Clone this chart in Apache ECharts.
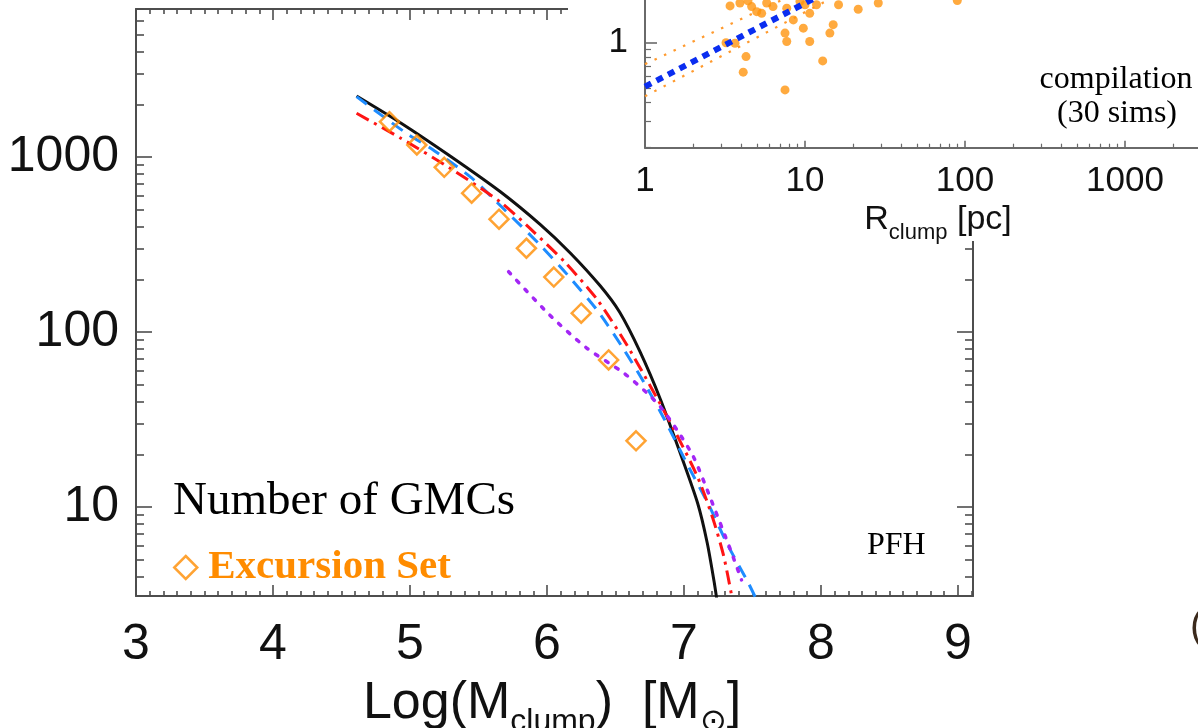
<!DOCTYPE html>
<html>
<head>
<meta charset="utf-8">
<script src="https://cdn.jsdelivr.net/npm/echarts@6/dist/echarts.min.js"></script>
<style>
  html, body { margin: 0; padding: 0; background: #fff; }
  #chart { width: 1198px; height: 728px; }
</style>
</head>
<body>
<div id="chart"></div>
<script>
// ---- Main panel: cumulative number of GMCs above a given clump mass ----
// x: log10(M_clump / Msun), y: number of clumps
const simLogM   = [4.61, 4.93, 5.29, 5.66, 5.95, 6.17, 6.39, 6.53, 6.68, 6.83, 6.97, 7.10, 7.17, 7.22, 7.24];
const simN      = [2232, 1571, 1017, 633, 412, 283, 183, 130, 76.9, 40.9, 20.6, 10.5, 6.23, 3.75, 2.96];

const blueLogM  = [4.61, 4.96, 5.18, 5.45, 5.70, 5.95, 6.15, 6.37, 6.55, 6.71, 6.86, 7.02, 7.18, 7.32, 7.47, 7.52];
const blueN     = [2213, 1390, 1083, 759, 491, 314, 212, 132, 82, 51.2, 31.4, 17.8, 10.3, 6.06, 3.68, 3.06];

const redLogM   = [4.61, 4.93, 5.29, 5.66, 5.88, 6.13, 6.37, 6.57, 6.75, 6.93, 7.10, 7.21, 7.29, 7.35];
const redN      = [1777, 1284, 865, 553, 388, 251, 152, 87.7, 49.8, 27.5, 14.8, 8.65, 5.25, 3.06];

const purpleLogM = [5.72, 6.02, 6.29, 6.56, 6.73, 6.83, 6.95, 7.07, 7.19, 7.34, 7.42];
const purpleN    = [221, 125, 81, 58.3, 44.8, 37.2, 27.5, 19.3, 11.4, 5.68, 3.83];

// Excursion-set prediction (open diamonds)
const excLogM = [4.85, 5.05, 5.25, 5.45, 5.65, 5.85, 6.05, 6.25, 6.45, 6.65];
const excN    = [1592, 1171, 873, 621, 441, 301, 206, 128, 69.2, 23.9];

// Tick labels
const massTicks  = [3, 4, 5, 6, 7, 8, 9];
const countTicks = [10, 100, 1000];

// ---- Inset: compilation of 30 simulations vs clump radius ----
const clumpR = [3.40, 3.92, 4.64, 4.99, 5.36, 5.76, 6.31, 7.69, 8.45, 9.76, 7.50, 7.69, 10.7, 10.7, 11.8,
                14.3, 15.0, 16.2, 12.9, 4.28, 4.11, 7.50, 3.65, 3.21, 21.5, 28.7, 89.5, 9.3, 12.4, 6.0, 4.4, 10.0];
const clumpY = [1.76, 1.84, 1.74, 1.61, 1.57, 1.84, 1.74, 1.70, 1.42, 1.25, 1.16, 1.02, 1.02, 1.57, 1.79,
                1.16, 1.32, 1.79, 0.757, 0.809, 0.637, 0.485, 0.993, 1.00, 1.67, 1.84, 1.91, 1.88, 1.93, 1.93, 1.90, 1.79];

// power-law guide lines (two end points each, straight on log-log axes)
const fitR      = [1, 100];
const fitBlue   = [0.51, 6.6];
const fitUpper  = [0.72, 7.2];
const fitLower  = [0.44, 5.8];

const radiusTicks = [1, 10, 100, 1000];
const insetYTicks = [1];

// ---- helpers for tick positions ----
function logMinor(lo, hi, majors) {
  const out = [];
  for (let d = Math.floor(Math.log10(lo)) - 1; d <= Math.ceil(Math.log10(hi)); d++) {
    for (let k = 1; k <= 9; k++) {
      const v = +(k * Math.pow(10, d)).toPrecision(6);
      if (v >= lo && v <= hi && majors.indexOf(v) < 0) out.push(v);
    }
  }
  return out;
}
function linMinor(lo, hi, step) {
  const out = [];
  for (let i = Math.round(lo / step); i * step <= hi + 1e-9; i++) {
    const v = +(i * step).toFixed(4);
    if (Math.abs(v - Math.round(v)) > 1e-6) out.push(v);
  }
  return out;
}
const pairs = (xs, ys) => xs.map((x, i) => [x, ys[i]]);

const AX = '#4d4d4d';
const SANS = '"Liberation Sans", Arial, Helvetica, sans-serif';
const SERIF = '"Liberation Serif", "Times New Roman", serif';

function axis(o) {
  return {
    type: o.type, gridIndex: o.grid, position: o.pos, min: o.min, max: o.max,
    logBase: 10, z: o.z || 0,
    axisLine: { show: !!o.line, onZero: false, lineStyle: { color: o.color || AX, width: o.lw || 2 } },
    axisTick: { show: true, inside: true, length: o.len, customValues: o.ticks,
                lineStyle: { color: o.color || AX, width: o.tw || 1.6 } },
    axisLabel: o.labels ? Object.assign({ show: true, customValues: o.labels,
                 fontFamily: SANS, color: '#111', formatter: v => String(v) }, o.labelStyle)
               : { show: false },
    splitLine: { show: false }, minorTick: { show: false }, minorSplitLine: { show: false },
    axisPointer: { show: false }
  };
}

const X0 = 3, X1 = 9.11, Y0 = 3.1, Y1 = 7000;
const xMinor = linMinor(X0, X1, 0.1);
const yMinor = logMinor(Y0, Y1, countTicks);
const RX0 = 1, RX1 = 2858, RY0 = 0.2, RY1 = 1.926;
const rMinor = logMinor(RX0, RX1, radiusTicks);
const ryMinor = logMinor(RY0, RY1, [1, 10]);

const xAxes = [
  axis({ type: 'value', grid: 0, pos: 'bottom', min: X0, max: X1, ticks: massTicks, len: 11, line: true,
         labels: massTicks, labelStyle: { fontSize: 50, margin: 24 } }),
  axis({ type: 'value', grid: 0, pos: 'bottom', min: X0, max: X1, ticks: xMinor, len: 5 }),
  axis({ type: 'value', grid: 0, pos: 'top', min: X0, max: X1, ticks: massTicks, len: 11, line: true }),
  axis({ type: 'value', grid: 0, pos: 'top', min: X0, max: X1, ticks: xMinor, len: 5 }),
  axis({ type: 'log', grid: 1, pos: 'bottom', min: RX0, max: RX1, ticks: radiusTicks, len: 7, line: true, z: 10,
         color: '#6a6a6a', labels: radiusTicks, labelStyle: { fontSize: 35, margin: 16 } }),
  axis({ type: 'log', grid: 1, pos: 'bottom', min: RX0, max: RX1, ticks: rMinor, len: 4, z: 10, color: '#6a6a6a', tw: 1.2 })
];
const yAxes = [
  axis({ type: 'log', grid: 0, pos: 'left', min: Y0, max: Y1, ticks: countTicks, len: 16, line: true,
         labels: countTicks, labelStyle: { fontSize: 50, margin: 17 } }),
  axis({ type: 'log', grid: 0, pos: 'left', min: Y0, max: Y1, ticks: yMinor, len: 8 }),
  axis({ type: 'log', grid: 0, pos: 'right', min: Y0, max: Y1, ticks: countTicks, len: 16, line: true }),
  axis({ type: 'log', grid: 0, pos: 'right', min: Y0, max: Y1, ticks: yMinor, len: 8 }),
  axis({ type: 'log', grid: 1, pos: 'left', min: RY0, max: RY1, ticks: [1], len: 12, line: true, z: 10,
         color: '#6a6a6a', labels: insetYTicks, labelStyle: { fontSize: 35, margin: 17 } }),
  axis({ type: 'log', grid: 1, pos: 'left', min: RY0, max: RY1, ticks: ryMinor, len: 6, z: 10, color: '#6a6a6a', tw: 1.2 })
];

const option = {
  animation: false,
  backgroundColor: '#fff',
  grid: [
    { left: 136, top: 9.1, width: 837, height: 586.9, containLabel: false },
    { left: 645, top: 0, width: 553, height: 147.7, containLabel: false }
  ],
  xAxis: xAxes,
  yAxis: yAxes,
  legend: {
    left: 168, top: 542, orient: 'horizontal',
    itemWidth: 23, itemHeight: 23,
    data: [{ name: 'Excursion Set', icon: 'diamond',
             itemStyle: { color: 'rgba(0,0,0,0)', borderColor: '#ff8c00', borderWidth: 2.5 } }],
    textStyle: { fontFamily: SERIF, fontWeight: 'bold', fontSize: 41, color: '#ff8c00', padding: [0, 0, 0, 6] },
    selectedMode: false
  },
  series: [
    { name: 'simulation', type: 'line', xAxisIndex: 0, yAxisIndex: 0, data: pairs(simLogM, simN),
      smooth: 0.25, showSymbol: false, lineStyle: { color: '#111', width: 3 }, z: 2 },
    { name: 'model A', type: 'line', xAxisIndex: 0, yAxisIndex: 0, data: pairs(blueLogM, blueN),
      smooth: 0.25, showSymbol: false, lineStyle: { color: '#1e8cff', width: 3, type: [13, 9] }, z: 3 },
    { name: 'model B', type: 'line', xAxisIndex: 0, yAxisIndex: 0, data: pairs(redLogM, redN),
      smooth: 0.25, showSymbol: false, lineStyle: { color: '#ff1414', width: 3, type: [14, 6, 3, 6] }, z: 4 },
    { name: 'model C', type: 'line', xAxisIndex: 0, yAxisIndex: 0, data: pairs(purpleLogM, purpleN),
      smooth: 0.25, showSymbol: false, lineStyle: { color: '#a326f5', width: 3.5, type: [3, 9], cap: 'round' }, z: 4 },
    { name: 'Excursion Set', type: 'scatter', xAxisIndex: 0, yAxisIndex: 0, data: pairs(excLogM, excN),
      symbol: 'diamond', symbolSize: 19,
      itemStyle: { color: 'rgba(0,0,0,0)', borderColor: '#ff8c00', borderWidth: 2.5 }, z: 5 },

    { name: 'fit upper', type: 'line', xAxisIndex: 4, yAxisIndex: 4, data: pairs(fitR, fitUpper),
      showSymbol: false, lineStyle: { color: '#ff9a2e', width: 2.2, type: [2.5, 8] }, z: 11 },
    { name: 'fit lower', type: 'line', xAxisIndex: 4, yAxisIndex: 4, data: pairs(fitR, fitLower),
      showSymbol: false, lineStyle: { color: '#ff9a2e', width: 2.2, type: [2.5, 8] }, z: 11 },
    { name: 'clumps', type: 'scatter', xAxisIndex: 4, yAxisIndex: 4, data: pairs(clumpR, clumpY),
      symbol: 'circle', symbolSize: 9, itemStyle: { color: '#ff950f' }, z: 12 },
    { name: 'fit', type: 'line', xAxisIndex: 4, yAxisIndex: 4, data: pairs(fitR, fitBlue),
      showSymbol: false, lineStyle: { color: '#0a2df0', width: 6, type: [7, 6] }, z: 13 }
  ],
  graphic: { elements: [
    // white backing of the inset panel
    { type: 'rect', shape: { x: 568, y: -5, width: 640, height: 246 }, style: { fill: '#fff' }, z: 6 },
    { type: 'text', x: 173, y: 502, z: 20,
      style: { text: 'Number of GMCs', fontFamily: SERIF, fontSize: 47, fill: '#000', align: 'left', verticalAlign: 'middle' } },
    { type: 'text', x: 867, y: 546, z: 20,
      style: { text: 'PFH', fontFamily: SERIF, fontSize: 32, fill: '#000', align: 'left', verticalAlign: 'middle' } },
    { type: 'text', x: 1116, y: 80, z: 20,
      style: { text: 'compilation', fontFamily: SERIF, fontSize: 32, fill: '#000', align: 'center', verticalAlign: 'middle' } },
    { type: 'text', x: 1117, y: 114, z: 20,
      style: { text: '(30 sims)', fontFamily: SERIF, fontSize: 32, fill: '#000', align: 'center', verticalAlign: 'middle' } },
    { type: 'text', x: 938, y: 203, z: 20,
      style: { text: '{m|R}{s|clump}{m| [pc]}', align: 'center', verticalAlign: 'top', fill: '#111',
               rich: { m: { fontFamily: SANS, fontSize: 34, lineHeight: 34, verticalAlign: 'top', color: '#111' },
                       s: { fontFamily: SANS, fontSize: 22, lineHeight: 41, verticalAlign: 'bottom', color: '#111' } } } },
    { type: 'text', x: 552, y: 678, z: 20,
      style: { text: '{m|Log(M}{s|clump}{m|)  [M}{s|⊙}{m|]}', align: 'center', verticalAlign: 'top', fill: '#111',
               rich: { m: { fontFamily: SANS, fontSize: 52, lineHeight: 52, verticalAlign: 'top', color: '#111' },
                       s: { fontFamily: SANS, fontSize: 32, lineHeight: 60, verticalAlign: 'bottom', color: '#111' } } } },
    { type: 'text', x: 1190, y: 628, z: 20,
      style: { text: '(', fontFamily: SANS, fontSize: 40, fill: '#3b2a1c', align: 'left', verticalAlign: 'middle' } }
  ] }
};

const chart = echarts.init(document.getElementById('chart'), null, { renderer: 'canvas' });
chart.setOption(option);
</script>
</body>
</html>
